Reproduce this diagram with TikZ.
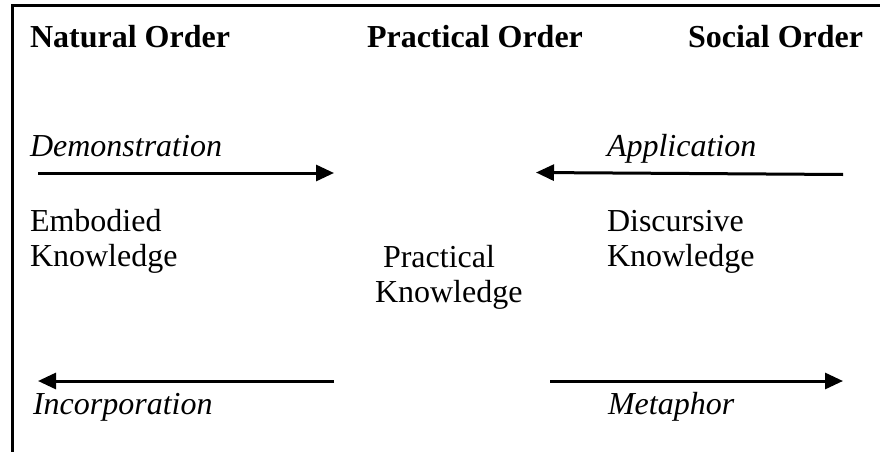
\documentclass[tikz,border=0pt]{standalone}
\usepackage{fontspec}
\setmainfont{Liberation Serif}
\usetikzlibrary{arrows.meta}
\tikzset{
  txt/.style={anchor=base west,inner sep=0pt,outer sep=0pt,font=\fontsize{32}{35}\selectfont},
  head/.style={txt,font=\fontsize{32}{35}\selectfont\bfseries},
  lbl/.style={txt,font=\fontsize{32}{35}\selectfont\itshape},
  flow/.style={line width=3pt,-{Triangle[length=18pt,width=16pt]}},
  frame/.style={line width=3pt}
}
\begin{document}
\begin{tikzpicture}[x=1pt,y=-1pt]
\useasboundingbox (0,0) rectangle (880,452);
\fill[white] (0,0) rectangle (880,452);
\draw[frame] (12,452) -- (12,6) -- (880,6);
% headers
\node[head] (nat) at (30,48) {Natural Order};
\node[head] (prac) at (367,48) {Practical Order};
\node[head] (soc) at (688,48) {Social Order};
% italic labels
\node[lbl] (demo) at (30,156) {Demonstration};
\node[lbl] (appl) at (607,156) {Application};
\node[lbl] (inco) at (33,414) {Incorporation};
\node[lbl] (meta) at (608,414) {Metaphor};
% knowledge labels
\node[txt] (emb1) at (30,231) {Embodied};
\node[txt] (emb2) at (30,266) {Knowledge};
\node[txt] (dis1) at (607,231) {Discursive};
\node[txt] (dis2) at (607,266) {Knowledge};
\node[txt] (pk1) at (383,267) {Practical};
\node[txt] (pk2) at (375,302) {Knowledge};
% arrow ends
\coordinate (a1s) at (38,173);
\coordinate (a1e) at (334,173);
\coordinate (a2s) at (843,174.5);
\coordinate (a2e) at (536,172.5);
\coordinate (a3s) at (334,381);
\coordinate (a3e) at (38,381);
\coordinate (a4s) at (550,381);
\coordinate (a4e) at (843,381);
\draw[flow] (a1s) -- (a1e);
\draw[flow] (a2s) -- (a2e);
\draw[flow] (a3s) -- (a3e);
\draw[flow] (a4s) -- (a4e);
\end{tikzpicture}
\end{document}
